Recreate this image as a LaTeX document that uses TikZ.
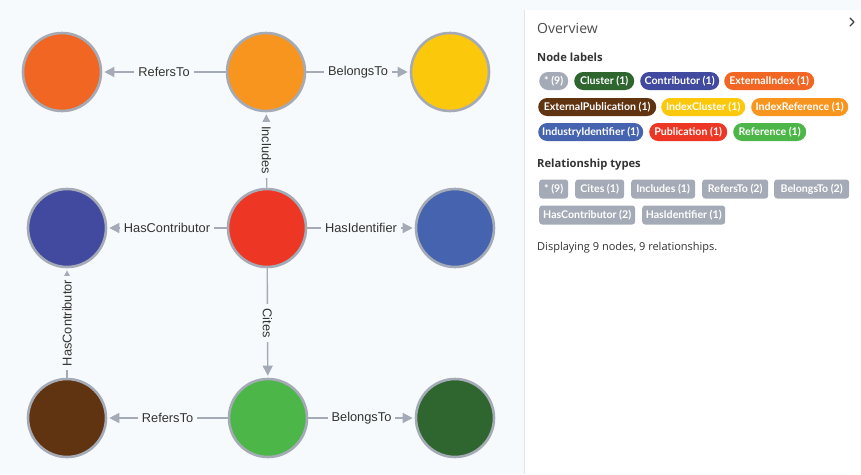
\documentclass[tikz,border=0pt]{standalone}
\usepackage{fontspec}
\setmainfont{Liberation Sans}
\newfontfamily\panelfont{Open Sans}
\newfontfamily\pillfont{Lato}
\usetikzlibrary{arrows.meta}
\definecolor{bgcol}{HTML}{F7FAFC}
\definecolor{edgegray}{HTML}{A5ABB6}
\definecolor{lblcol}{HTML}{333333}
\definecolor{cExtIdx}{HTML}{F16622}
\definecolor{cIdxRef}{HTML}{F7951F}
\definecolor{cIdxClu}{HTML}{FCC80C}
\definecolor{cContrib}{HTML}{414A9F}
\definecolor{cPub}{HTML}{EE3624}
\definecolor{cIndId}{HTML}{4563AE}
\definecolor{cExtPub}{HTML}{603311}
\definecolor{cRef}{HTML}{4CB748}
\definecolor{cClu}{HTML}{2F6630}
\begin{document}
\begin{tikzpicture}[x=1pt,y=-1pt,
  gnode/.style={circle, draw=edgegray, line width=2.6pt, minimum size=78pt, inner sep=0pt},
  rel/.style={draw=edgegray, line width=1.4pt, -{Triangle[length=10pt,width=10pt]}, shorten >=2pt, shorten <=0pt},
  elabel/.style={fill=bgcol, inner sep=4pt, text=lblcol, font=\fontsize{12.8}{14}\selectfont},
  npill/.style={rounded corners=9pt, minimum height=18pt, inner sep=0pt, anchor=west, text=white, font=\pillfont\bfseries\fontsize{10.6}{12}\selectfont},
  rpill/.style={rounded corners=3pt, fill=edgegray, minimum height=19pt, inner sep=0pt, anchor=west, text=white, font=\pillfont\bfseries\fontsize{10.6}{12}\selectfont},
  ptext/.style={anchor=west, inner sep=0pt, font=\panelfont\fontsize{11}{13}\selectfont, text=lblcol},
  phead/.style={anchor=west, inner sep=0pt, font=\panelfont\bfseries\fontsize{11.2}{13}\selectfont, text=lblcol}
]
\useasboundingbox (0,0) rectangle (861,474);
\fill[bgcol] (0,0) rectangle (861,474);
\fill[white] (524,10) rectangle (861,474);
\draw[edgegray!30, line width=0.6pt] (524,10) -- (524,474);

% graph nodes
\node[gnode, fill=cExtIdx] (ei) at (62,72) {};
\node[gnode, fill=cIdxRef] (ir) at (266,72) {};
\node[gnode, fill=cIdxClu] (ic) at (450,72) {};
\node[gnode, fill=cContrib] (co) at (67,228) {};
\node[gnode, fill=cPub] (pu) at (267,228) {};
\node[gnode, fill=cIndId] (ii) at (455,228) {};
\node[gnode, fill=cExtPub] (ep) at (67,418) {};
\node[gnode, fill=cRef] (re) at (268,418) {};
\node[gnode, fill=cClu] (cl) at (455,418) {};

% relationships
\draw[rel] (ir) -- node[elabel] (l1) {RefersTo} (ei);
\draw[rel] (ir) -- node[elabel] (l2) {BelongsTo} (ic);
\draw[rel] (pu) -- node[elabel, rotate=-90] (l3) {Includes} (ir);
\draw[rel] (pu) -- node[elabel] (l4) {HasContributor} (co);
\draw[rel] (pu) -- node[elabel] (l5) {HasIdentifier} (ii);
\draw[rel] (pu) -- node[elabel, rotate=-90] (l6) {Cites} (re);
\draw[rel] (ep) -- node[elabel, rotate=90] (l7) {HasContributor} (co);
\draw[rel] (re) -- node[elabel] (l8) {RefersTo} (ep);
\draw[rel] (re) -- node[elabel] (l9) {BelongsTo} (cl);

% panel
\node[anchor=west, inner sep=0pt, font=\panelfont\fontsize{14}{16}\selectfont, text=black!70] (ov) at (537,28) {Overview};
\coordinate (chev) at (852,22);
\draw[black!75, line width=1.3pt, line cap=round, line join=round] ([shift={(-2,-4)}]chev) -- ([shift={(2,0)}]chev) -- ([shift={(-2,4)}]chev);

\node[phead] (nl) at (537,57) {Node labels};
\node[npill, fill=edgegray, minimum width=29pt] (p1) at (539,81) {* (9)};
\node[npill, fill=cClu, minimum width=60pt] (p2) at (574,81) {Cluster (1)};
\node[npill, fill=cContrib, minimum width=79pt] (p3) at (640,81) {Contributor (1)};
\node[npill, fill=cExtIdx, minimum width=90pt] (p4) at (724,81) {ExternalIndex (1)};
\node[npill, fill=cExtPub, minimum width=118pt] (p5) at (538,107) {ExternalPublication (1)};
\node[npill, fill=cIdxClu, minimum width=84pt] (p6) at (661,107) {IndexCluster (1)};
\node[npill, fill=cIdxRef, minimum width=97pt] (p7) at (751,107) {IndexReference (1)};
\node[npill, fill=cIndId, minimum width=105pt] (p8) at (538,132) {IndustryIdentifier (1)};
\node[npill, fill=cPub, minimum width=78pt] (p9) at (649,132) {Publication (1)};
\node[npill, fill=cRef, minimum width=73pt] (p10) at (733,132) {Reference (1)};

\node[phead] (rt) at (537,165) {Relationship types};
\node[rpill, minimum width=29pt] (r1) at (539,189) {* (9)};
\node[rpill, minimum width=49pt] (r2) at (575,189) {Cites (1)};
\node[rpill, minimum width=64pt] (r3) at (631,189) {Includes (1)};
\node[rpill, minimum width=66pt] (r4) at (702,189) {RefersTo (2)};
\node[rpill, minimum width=75pt] (r5) at (774,189) {BelongsTo (2)};
\node[rpill, minimum width=96pt] (r6) at (539,215) {HasContributor (2)};
\node[rpill, minimum width=83pt] (r7) at (642,215) {HasIdentifier (1)};

\node[ptext] (disp) at (537,248) {Displaying 9 nodes, 9 relationships.};
\end{tikzpicture}
\end{document}
